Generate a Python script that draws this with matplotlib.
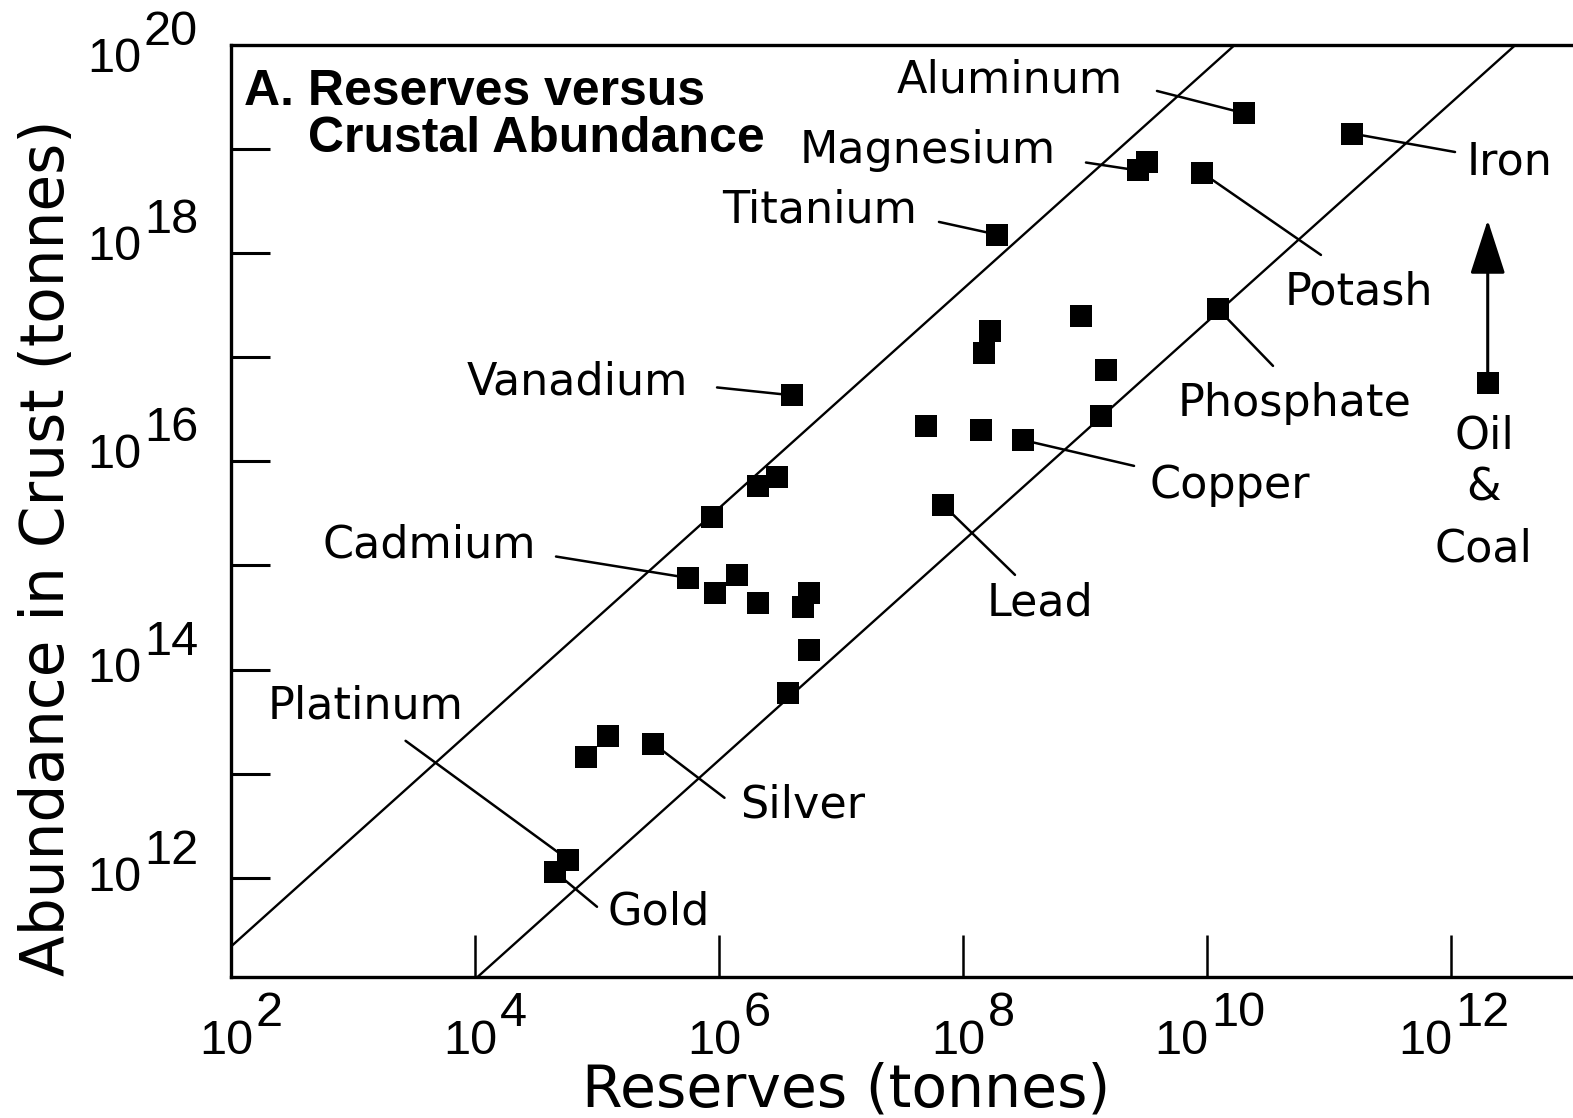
import matplotlib
matplotlib.use('Agg')
import matplotlib.pyplot as plt
from matplotlib.ticker import NullLocator
from matplotlib.transforms import blended_transform_factory, offset_copy

# Labelled commodities: reserves and crustal abundance (tonnes)
names = ['Aluminum', 'Magnesium', 'Titanium', 'Vanadium', 'Cadmium', 'Platinum',
         'Gold', 'Silver', 'Lead', 'Copper', 'Phosphate', 'Potash', 'Iron']
named_reserves = [2.0e10, 2.7e9, 1.9e8, 4.0e6, 5.6e5, 5.8e4,
                  4.5e4, 2.9e5, 6.9e7, 3.1e8, 1.23e10, 9.1e9, 1.55e11]
named_abundance = [2.2e19, 6.2e18, 1.5e18, 4.3e16, 7.6e14, 1.5e12,
                   1.15e12, 1.95e13, 3.8e15, 1.6e16, 2.9e17, 5.9e18, 1.4e19]

# Unlabelled commodities
other_reserves = [3.2e9, 1.66e8, 1.5e8, 9.3e8, 1.5e9, 1.35e9, 5.0e7, 1.4e8,
                  8.7e5, 2.1e6, 3.0e6, 1.4e6, 9.3e5, 2.1e6, 5.5e6, 4.9e6,
                  5.5e6, 3.7e6, 8.1e4, 1.23e5]
other_abundance = [7.4e18, 1.8e17, 1.1e17, 2.5e17, 7.6e16, 2.75e16, 2.2e16, 2.0e16,
                   2.9e15, 5.8e15, 7.1e15, 8.1e14, 5.4e14, 4.4e14, 5.4e14, 4.0e14,
                   1.55e14, 6.0e13, 1.45e13, 2.3e13]

# Oil & coal (lower bound, arrow pointing up)
oil_reserves = 2.0e12
oil_abundance = 5.6e16
oil_arrow_top = 2.07e18

# Two reference lines
upper_line_x = [1e2, 1.7e10]
upper_line_y = [2.2e11, 1e20]
lower_line_x = [9.4e3, 3.4e12]
lower_line_y = [1e11, 1e20]

x_label_exps = [2, 4, 6, 8, 10, 12]
y_label_exps = [12, 14, 16, 18, 20]

# layout: label baseline positions and leader-line starts, in log10 units
label_pos = {
    'Aluminum': (7.46, 19.545), 'Magnesium': (6.664, 18.868), 'Titanium': (6.025, 18.288),
    'Vanadium': (3.934, 16.641), 'Cadmium': (2.746, 15.072), 'Platinum': (2.303, 13.53),
    'Gold': (5.09, 11.551), 'Silver': (6.172, 12.58), 'Lead': (8.197, 14.52),
    'Copper': (9.525, 15.649), 'Phosphate': (9.762, 16.436), 'Potash': (10.639, 17.501),
    'Iron': (12.131, 18.749),
}
leader_start = {
    'Aluminum': (9.59, 19.555), 'Magnesium': (9.008, 18.868), 'Titanium': (7.803, 18.298),
    'Vanadium': (5.984, 16.709), 'Cadmium': (4.664, 15.086), 'Platinum': (3.431, 13.317),
    'Gold': (5.0, 11.724), 'Silver': (6.045, 12.77), 'Lead': (8.426, 14.91),
    'Copper': (9.402, 15.956), 'Phosphate': (10.541, 16.916), 'Potash': (10.934, 17.981),
    'Iron': (12.033, 18.969),
}

fig = plt.figure(figsize=(15.73, 11.18), dpi=100)
ax = fig.add_axes([231 / 1573, 1 - 977 / 1118, 1342 / 1573, 932.4 / 1118])
ax.set_xscale('log')
ax.set_yscale('log')
ax.set_xlim(1e2, 1e13)
ax.set_ylim(10 ** 11.05, 1e20)

ax.plot(upper_line_x, upper_line_y, color='black', lw=1.7)
ax.plot(lower_line_x, lower_line_y, color='black', lw=1.7)

for name, x, y in zip(names, named_reserves, named_abundance):
    sx, sy = leader_start[name]
    ax.annotate('', xy=(x, y), xytext=(10 ** sx, 10 ** sy),
                arrowprops=dict(arrowstyle='-', color='black', lw=1.8,
                                shrinkA=0, shrinkB=0))
    tx, ty = label_pos[name]
    ax.text(10 ** tx, 10 ** ty, name, fontsize=32, family='DejaVu Sans',
            ha='left', va='baseline')

ax.annotate('', xy=(oil_reserves, oil_arrow_top), xytext=(oil_reserves, oil_abundance),
            arrowprops=dict(arrowstyle='-|>,head_length=1.7,head_width=0.55',
                            mutation_scale=20, color='black', lw=2.2,
                            shrinkA=0, shrinkB=0))
for word, ly in zip(['Oil', '&', 'Coal'], [16.127, 15.628, 15.037]):
    ax.text(oil_reserves * 0.93, 10 ** ly, word, fontsize=32, family='DejaVu Sans',
            ha='center', va='baseline')

ax.plot(named_reserves, named_abundance, 's', color='black', ms=16, mew=0, zorder=5)
ax.plot(other_reserves, other_abundance, 's', color='black', ms=16, mew=0, zorder=5)
ax.plot([oil_reserves], [oil_abundance], 's', color='black', ms=16, mew=0, zorder=5)

# title inside the axes
ax.text(0.0097, 0.935, 'A. Reserves versus', transform=ax.transAxes, fontsize=36,
        family='Liberation Sans', weight='bold', ha='left', va='baseline')
ax.text(0.0574, 0.885, 'Crustal Abundance', transform=ax.transAxes, fontsize=36,
        family='Liberation Sans', weight='bold', ha='left', va='baseline')

# axes styling
ax.set_xticks([10.0 ** e for e in range(4, 13, 2)])
ax.set_yticks([10.0 ** e for e in range(12, 20)])
ax.xaxis.set_minor_locator(NullLocator())
ax.yaxis.set_minor_locator(NullLocator())
ax.tick_params(axis='y', direction='in', length=28, width=2.2, labelleft=False)
ax.tick_params(axis='x', direction='in', length=30, width=1.8, labelbottom=False)
ax.spines['right'].set_visible(False)
for side in ['left', 'bottom', 'top']:
    ax.spines[side].set_linewidth(2.4)

# tick labels with full-size exponents
ytr = blended_transform_factory(ax.transAxes, ax.transData)
y_nudge = {20: -15, 18: 5, 16: 6}
for e in y_label_exps:
    dy = y_nudge.get(e, 0)
    ax.text(0, 10.0 ** e, '10', fontsize=35, family='Liberation Sans', ha='right', va='center',
            transform=offset_copy(ytr, fig=fig, x=-90, y=dy, units='dots'), clip_on=False)
    ax.text(0, 10.0 ** e, str(e), fontsize=35, family='Liberation Sans', ha='left', va='center',
            transform=offset_copy(ytr, fig=fig, x=-87, y=dy + 27, units='dots'), clip_on=False)

xtr = blended_transform_factory(ax.transData, ax.transAxes)
for e in x_label_exps:
    dx = 22 - 21 * (len(str(e)) - 1)
    ax.text(10.0 ** e, 0, '10', fontsize=35, family='Liberation Sans', ha='right', va='center',
            transform=offset_copy(xtr, fig=fig, x=dx, y=-64, units='dots'), clip_on=False)
    ax.text(10.0 ** e, 0, str(e), fontsize=35, family='Liberation Sans', ha='left', va='center',
            transform=offset_copy(xtr, fig=fig, x=dx + 3, y=-36, units='dots'), clip_on=False)

ax.set_xlabel('Reserves (tonnes)', fontsize=42, family='DejaVu Sans')
ax.xaxis.label.set_va('baseline')
ax.xaxis.set_label_coords(0.4583, -0.139)
ax.set_ylabel('Abundance in Crust (tonnes)', fontsize=43, family='DejaVu Sans')
ax.yaxis.label.set_va('baseline')
ax.yaxis.set_label_coords(-0.1244, 0.4607)

fig.savefig('out.png', dpi=100)
